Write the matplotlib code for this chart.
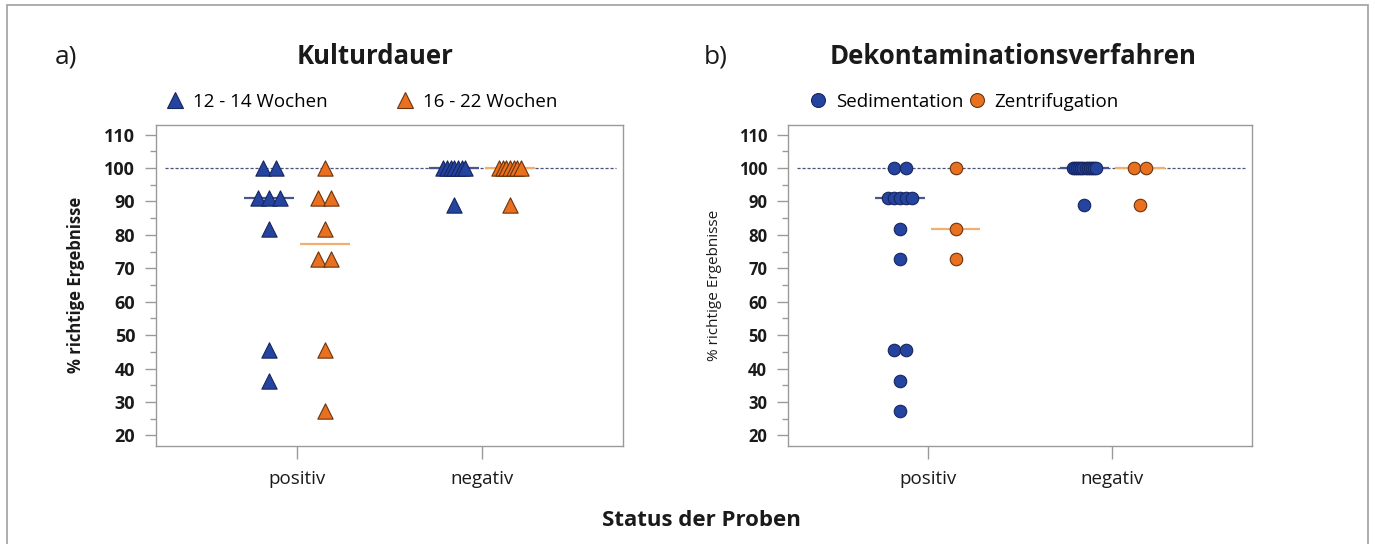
import numpy as np
import matplotlib
matplotlib.use("Agg")
import matplotlib.pyplot as plt
from matplotlib.lines import Line2D
from matplotlib.patches import Rectangle

# ---------------- data ----------------
status = ["positiv", "negativ"]
yticks = [20, 30, 40, 50, 60, 70, 80, 90, 100, 110]

a_groups = ["12 - 14 Wochen", "16 - 22 Wochen"]
a_12_14_pos = [100, 100, 90.9, 90.9, 90.9, 81.8, 45.5, 36.4]
a_16_22_pos = [100, 90.9, 90.9, 81.8, 72.7, 72.7, 45.5, 27.3]
a_12_14_neg = [100, 100, 100, 100, 100, 100, 100, 88.9]
a_16_22_neg = [100, 100, 100, 100, 100, 100, 100, 88.9]

b_groups = ["Sedimentation", "Zentrifugation"]
b_sed_pos = [100, 100, 90.9, 90.9, 90.9, 90.9, 90.9, 81.8, 72.7, 45.5, 45.5, 36.4, 27.3]
b_zen_pos = [100, 81.8, 72.7]
b_sed_neg = [100] * 12 + [88.9]
b_zen_neg = [100, 100, 88.9]

reference = 100

# ---------------- style ----------------
BLUE = "#2444a0"
BLUE_EDGE = "#17265e"
ORANGE = "#e8701e"
ORANGE_EDGE = "#6a3410"
BLUE_MED = "#4a5690"
ORANGE_MED = "#f0b070"
SPINE = "#9a9a9a"
TXT = "#1a1a1a"

plt.rcParams["font.family"] = ["Open Sans", "DejaVu Sans"]

W, H = 1375, 544
fig = plt.figure(figsize=(W / 100, H / 100), dpi=100)

PX_PER_UNIT = 185.0
GROUP_OFF = 0.15


def spread(values, step_px, cap_px):
    vals = np.asarray(values, dtype=float)
    offs = np.zeros(len(vals))
    for v in np.unique(vals):
        idx = np.where(vals == v)[0]
        n = len(idx)
        if n > 1:
            span = min((n - 1) * step_px, cap_px)
            offs[idx] = np.linspace(-span / 2, span / 2, n) / PX_PER_UNIT
    return offs


def panel(ax, series, colors, edges, medcols, marker, ms, step, cap):
    ax.set_xlim(0.24, 2.76)
    ax.set_ylim(17, 113)
    ax.axhline(reference, xmin=0.02, xmax=0.985, color="#4c5178", lw=0.9,
               ls=(0, (2.5, 1.5)), zorder=1)
    for si, st in enumerate(status):
        xc = si + 1
        for gi in range(2):
            vals = series[gi][si]
            x0 = xc + (-GROUP_OFF if gi == 0 else GROUP_OFF)
            med = np.median(vals)
            ax.plot([x0 - 0.135, x0 + 0.135], [med, med], color=medcols[gi],
                    lw=1.6, zorder=2, solid_capstyle="butt")
            xs = x0 + spread(vals, step, cap)
            ax.scatter(xs, vals, marker=marker, s=ms ** 2, color=colors[gi],
                       edgecolors=edges[gi], linewidths=0.8, zorder=3)
    ax.set_xticks([1, 2])
    ax.set_xticklabels(status)
    ax.set_yticks(yticks)
    ax.set_yticks(np.arange(25, 110, 10), minor=True)
    for s in ax.spines.values():
        s.set_color(SPINE)
        s.set_linewidth(1.0)
    ax.tick_params(axis="y", which="major", length=8, width=1, color=SPINE,
                   pad=7, labelsize=13, labelcolor=TXT)
    ax.tick_params(axis="y", which="minor", length=4, width=1, color=SPINE)
    ax.tick_params(axis="x", which="major", length=9, width=1, color=SPINE,
                   pad=9, labelsize=13.5, labelcolor=TXT)
    for lab in ax.get_yticklabels():
        lab.set_fontweight("bold")


# panel a
axa = fig.add_axes([156 / W, 1 - 445.5 / H, 467 / W, 321 / H])
panel(axa,
      [[a_12_14_pos, a_12_14_neg], [a_16_22_pos, a_16_22_neg]],
      [BLUE, ORANGE], [BLUE_EDGE, ORANGE_EDGE], [BLUE_MED, ORANGE_MED],
      "^", 11, 13, 22)
axa.set_ylabel("% richtige Ergebnisse", fontsize=12, fontweight="bold",
               color=TXT, labelpad=14)

# panel b
axb = fig.add_axes([788 / W, 1 - 445.5 / H, 464 / W, 321 / H])
panel(axb,
      [[b_sed_pos, b_sed_neg], [b_zen_pos, b_zen_neg]],
      [BLUE, ORANGE], [BLUE_EDGE, ORANGE_EDGE], [BLUE_MED, ORANGE_MED],
      "o", 9, 12, 24)
for lab in axb.get_yticklabels():
    lab.set_fontsize(12)
axb.set_ylabel("% richtige Ergebnisse", fontsize=11, color=TXT, labelpad=12)

# legends
ha = [Line2D([], [], marker="^", ls="", ms=11, color=c, mec=e, mew=0.8)
      for c, e in [(BLUE, BLUE_EDGE), (ORANGE, ORANGE_EDGE)]]
axa.legend(ha, a_groups, loc="center left", bbox_to_anchor=(0.022, 1.07),
           ncol=2, frameon=False, fontsize=13.5, handlelength=0.9,
           handletextpad=0.5, columnspacing=3.7, borderpad=0, borderaxespad=0)
hb = [Line2D([], [], marker="o", ls="", ms=10, color=c, mec=e, mew=0.8)
      for c, e in [(BLUE, BLUE_EDGE), (ORANGE, ORANGE_EDGE)]]
axb.legend(hb, b_groups, loc="center left", bbox_to_anchor=(0.047, 1.07),
           ncol=2, frameon=False, fontsize=13.5, handlelength=0.9,
           handletextpad=0.5, columnspacing=0.25, borderpad=0, borderaxespad=0)

# titles and labels
fig.text(55 / W, 1 - 57 / H, "a)", fontsize=19, color=TXT, va="center", ha="left")
fig.text(375 / W, 1 - 57 / H, "Kulturdauer", fontsize=18.5, fontweight="bold",
         color=TXT, va="center", ha="center")
fig.text(704 / W, 1 - 57 / H, "b)", fontsize=19, color=TXT, va="center", ha="left")
fig.text(1013 / W, 1 - 57 / H, "Dekontaminationsverfahren", fontsize=18.5,
         fontweight="bold", color=TXT, va="center", ha="center")
fig.text(701 / W, 1 - 520 / H, "Status der Proben", fontsize=16,
         fontweight="bold", color=TXT, va="center", ha="center")

# outer frame
fig.patches.append(Rectangle((7 / W, -0.05), (1368 - 7) / W, 1.05 - 5 / H,
                             transform=fig.transFigure, fill=False,
                             edgecolor="#a0a0a0", lw=1.2))

fig.savefig("out.png", dpi=100)
